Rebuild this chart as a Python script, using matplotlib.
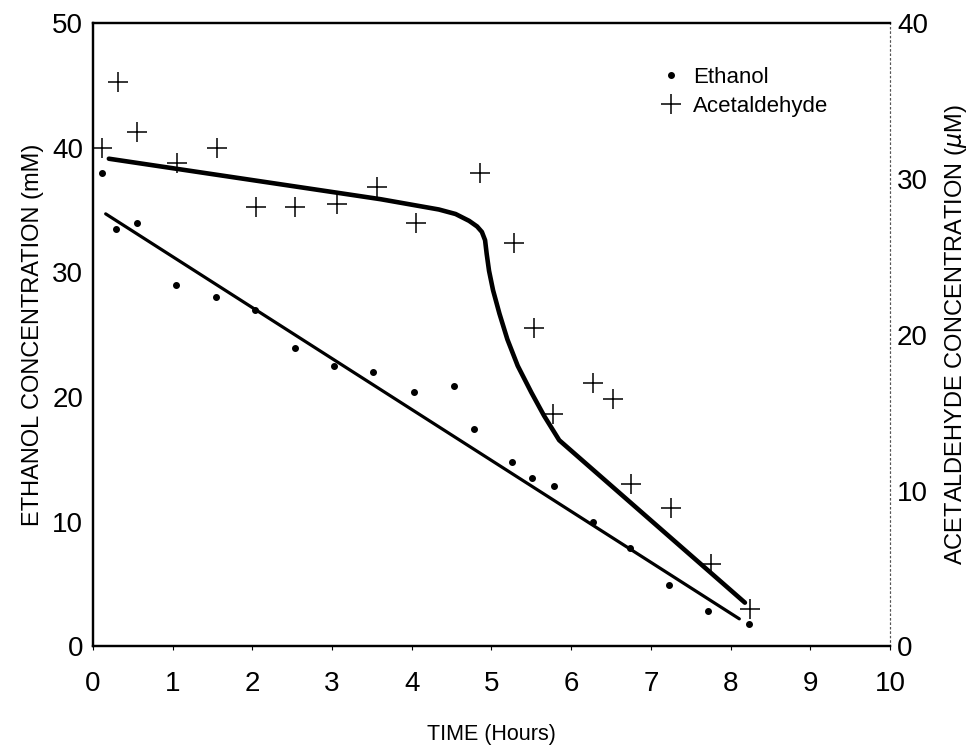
import matplotlib
matplotlib.use("Agg")
import matplotlib.pyplot as plt
from matplotlib.lines import Line2D

plt.rcParams['font.family'] = ['Liberation Sans', 'DejaVu Sans']

# Ethanol data (mM, left axis)
eth_time = [0.11, 0.29, 0.55, 1.04, 1.54, 2.03, 2.53, 3.03, 3.52, 4.03, 4.53, 4.78, 5.26, 5.51, 5.78, 6.28, 6.74, 7.23, 7.72, 8.23]
eth_conc = [38.0, 33.5, 34.0, 29.0, 28.0, 27.0, 23.9, 22.5, 22.0, 20.4, 20.9, 17.4, 14.8, 13.5, 12.9, 10.0, 7.9, 4.9, 2.8, 1.8]
# Ethanol regression line
eth_fit_time = [0.16, 8.11]
eth_fit_conc = [34.7, 2.2]

# Acetaldehyde data (uM, right axis)
ace_time = [0.11, 0.31, 0.55, 1.06, 1.56, 2.04, 2.54, 3.06, 3.57, 4.05, 4.86, 5.28, 5.53, 5.77, 6.28, 6.52, 6.75, 7.25, 7.75, 8.24]
ace_conc = [32.0, 36.2, 33.0, 31.0, 32.0, 28.2, 28.2, 28.4, 29.5, 27.2, 30.4, 25.9, 20.4, 14.9, 16.9, 15.9, 10.4, 8.9, 5.3, 2.4]
# Acetaldehyde fitted curve
ace_fit_time = [0.2, 3.61, 4.34, 4.55, 4.72, 4.82, 4.88, 4.92, 4.94, 4.97, 5.02, 5.10, 5.20, 5.33, 5.50, 5.66, 5.85, 8.18]
ace_fit_conc = [31.3, 28.7, 28.04, 27.75, 27.31, 26.95, 26.6, 26.07, 25.2, 24.1, 22.86, 21.36, 19.7, 18.0, 16.3, 14.8, 13.23, 2.8]

x_ticks = [0, 1, 2, 3, 4, 5, 6, 7, 8, 9, 10]
left_ticks = [0, 10, 20, 30, 40, 50]
right_ticks = [0, 10, 20, 30, 40]

fig = plt.figure(figsize=(9.78, 7.48), dpi=100)
ax = fig.add_axes([0.095, 0.136, 0.815, 0.833])
ax2 = ax.twinx()

ax.plot(eth_time, eth_conc, linestyle='none', marker='o', markersize=4, color='black')
ax.plot(eth_fit_time, eth_fit_conc, color='black', lw=2.3, solid_capstyle='round')

ax2.plot(ace_time, ace_conc, linestyle='none', marker='+', markersize=14, markeredgewidth=1.1, color='black')
ax2.plot(ace_fit_time, ace_fit_conc, color='black', lw=3.3, solid_capstyle='round', solid_joinstyle='round')

ax.set_xlim(0, 10)
ax.set_ylim(0, 50)
ax2.set_ylim(0, 40)
ax.set_xticks(x_ticks)
ax.set_yticks(left_ticks)
ax2.set_yticks(right_ticks)

ax.tick_params(axis='x', labelsize=20, length=3, width=0.8, pad=15, direction='out')
ax.tick_params(axis='y', labelsize=20, length=0, pad=7)
ax2.tick_params(axis='y', labelsize=20, length=0, pad=5)

for a in (ax, ax2):
    a.spines['top'].set_linewidth(1.6)
    a.spines['left'].set_linewidth(1.6)
    a.spines['bottom'].set_linewidth(1.6)
    a.spines['right'].set_linewidth(0.8)
    a.spines['right'].set_linestyle((0, (1, 3)))
    a.spines['right'].set_color('#555555')

ax.set_xlabel('TIME (Hours)', fontsize=15.5, labelpad=19)
ax.set_ylabel('ETHANOL CONCENTRATION (mM)', fontsize=17, labelpad=6)
ax2.set_ylabel('ACETALDEHYDE CONCENTRATION ($\\mu$M)', fontsize=17, labelpad=11)

handles = [Line2D([], [], linestyle='none', marker='o', markersize=4, color='black'),
           Line2D([], [], linestyle='none', marker='+', markersize=14, markeredgewidth=1.1, color='black')]
ax2.legend(handles, ['Ethanol', 'Acetaldehyde'], loc='upper left', bbox_to_anchor=(0.706, 0.93),
           frameon=False, fontsize=16, handletextpad=0.3, labelspacing=0.35, handlelength=1.4,
           borderpad=0, borderaxespad=0)

fig.savefig('out.png', dpi=100)
